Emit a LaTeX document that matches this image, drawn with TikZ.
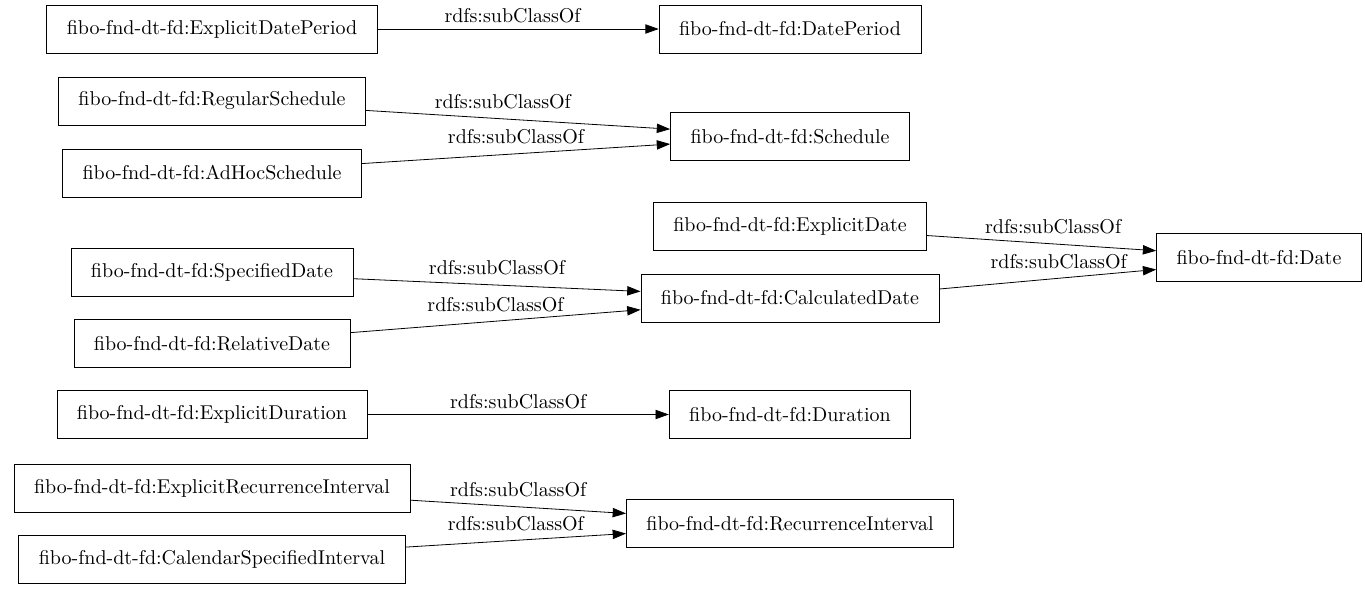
\documentclass[tikz,border=0pt]{standalone}
\usepackage{fontspec}
\setmainfont{lmroman10-regular}[Extension=.otf]
\usetikzlibrary{arrows.meta}
\begin{document}
\begin{tikzpicture}[x=0.75pt, y=-0.75pt, >={Triangle[length=10pt,width=7pt]},
  cls/.style={draw, semithick, rectangle, minimum height=36pt, inner xsep=15pt, font=\fontsize{15}{18}\selectfont},
  sub/.style={font=\fontsize{15}{18}\selectfont, above, inner sep=4pt},
  subs/.style={sub, yshift=3pt}]
  \useasboundingbox (0,0) rectangle (1365,589);
  % Classes, left column
  \node[cls] (edp) at (212,29) {fibo-fnd-dt-fd:ExplicitDatePeriod};
  \node[cls] (rs) at (212,101) {fibo-fnd-dt-fd:RegularSchedule};
  \node[cls] (ahs) at (212,173) {fibo-fnd-dt-fd:AdHocSchedule};
  \node[cls] (sd) at (212,272.5) {fibo-fnd-dt-fd:SpecifiedDate};
  \node[cls] (rd) at (212,343.5) {fibo-fnd-dt-fd:RelativeDate};
  \node[cls] (edur) at (212,414.5) {fibo-fnd-dt-fd:ExplicitDuration};
  \node[cls] (eri) at (212,488) {fibo-fnd-dt-fd:ExplicitRecurrenceInterval};
  \node[cls] (csi) at (212,559) {fibo-fnd-dt-fd:CalendarSpecifiedInterval};
  % Classes, middle column
  \node[cls] (dp) at (790,29) {fibo-fnd-dt-fd:DatePeriod};
  \node[cls] (sch) at (790,136.5) {fibo-fnd-dt-fd:Schedule};
  \node[cls] (ed) at (790,226.5) {fibo-fnd-dt-fd:ExplicitDate};
  \node[cls] (cd) at (790,298) {fibo-fnd-dt-fd:CalculatedDate};
  \node[cls] (dur) at (790,414.5) {fibo-fnd-dt-fd:Duration};
  \node[cls] (ri) at (790,523.5) {fibo-fnd-dt-fd:RecurrenceInterval};
  % Classes, right column
  \node[cls] (date) at (1259,257.5) {fibo-fnd-dt-fd:Date};
  % subClassOf edges
  \draw[->, semithick] (edp) -- (dp) node[sub, pos=0.48] {rdfs:subClassOf};
  \draw[->, semithick] (rs) -- (sch) node[subs, pos=0.45] {rdfs:subClassOf};
  \draw[->, semithick] (ahs) -- (sch) node[subs, pos=0.5] {rdfs:subClassOf};
  \draw[->, semithick] (ed) -- (date) node[subs, pos=0.55] {rdfs:subClassOf};
  \draw[->, semithick] ([yshift=6.75pt]cd.east) -- ([yshift=-9pt]date.west) node[subs, pos=0.55] {rdfs:subClassOf};
  \draw[->, semithick] (sd) -- (cd) node[subs, midway] {rdfs:subClassOf};
  \draw[->, semithick] (rd) -- (cd) node[subs, midway] {rdfs:subClassOf};
  \draw[->, semithick] (edur) -- (dur) node[sub, midway] {rdfs:subClassOf};
  \draw[->, semithick] (eri) -- (ri) node[subs, midway] {rdfs:subClassOf};
  \draw[->, semithick] (csi) -- (ri) node[subs, midway] {rdfs:subClassOf};
\end{tikzpicture}
\end{document}
